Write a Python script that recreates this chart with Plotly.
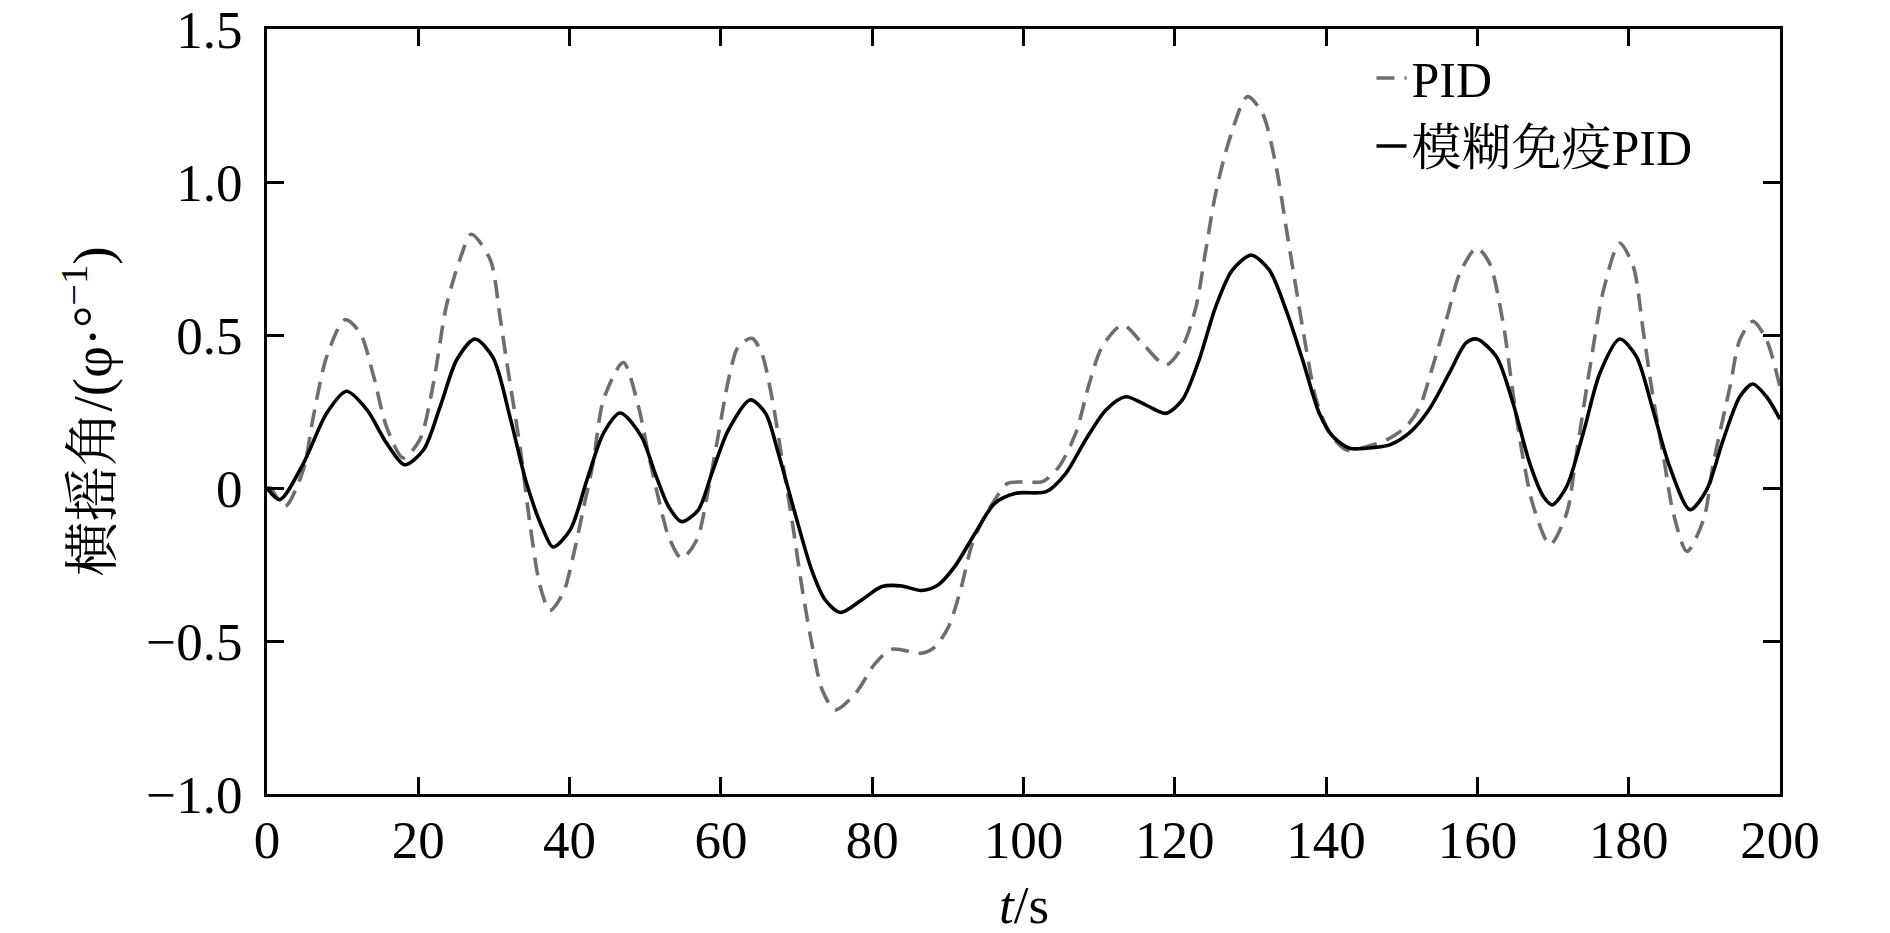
import plotly.graph_objects as go

# Time samples (s) and roll angle values
t_pid = [0, 0.4, 2.4, 4.8, 6.1, 7.9, 10.3, 12.3, 14.1, 15.8, 18.0, 20.2, 22.0, 23.7, 25.5, 27.0,
         29.5, 30.8, 31.7, 33.5, 34.8, 36.1, 37.4, 39.2, 40.5, 41.8, 43.1, 44.5, 47.1, 49.1,
         50.4, 51.8, 53.1, 54.8, 56.8, 58.4, 59.7, 61.0, 62.3, 64.1, 65.4, 66.8, 68.1, 69.4,
         70.7, 72.1, 73.4, 75.1, 77.8, 80.4, 82.6, 86.5, 88.3, 90.1, 91.8, 93.1, 94.4, 96.2,
         97.9, 100.0, 102.5, 104.7, 106.9, 108.7, 110.4, 113.1, 115.7, 118.8, 121.0, 122.8,
         124.1, 125.4, 127.2, 129.6, 131.6, 133.4, 134.7, 136.0, 137.4, 138.7, 140.5, 142.7,
         145.3, 148.0, 150.6, 152.4, 154.1, 155.9, 157.7, 159.9, 161.6, 163.4, 164.7, 166.0,
         167.4, 169.6, 171.8, 173.1, 174.9, 176.7, 178.8, 180.6, 181.9, 183.2, 184.6, 185.9,
         187.7, 189.9, 191.2, 193.4, 194.7, 196.4, 198.2, 200.0]
v_pid = [0.0, 0.0, -0.06, 0.06, 0.23, 0.43, 0.55, 0.507, 0.365, 0.2, 0.098, 0.158, 0.343, 0.594,
         0.747, 0.829, 0.747, 0.56, 0.41, 0.125, -0.125, -0.32, -0.40, -0.34, -0.22, -0.07, 0.08,
         0.29, 0.41, 0.266, 0.113, -0.039, -0.159, -0.23, -0.17, 0.004, 0.179, 0.353, 0.462,
         0.489, 0.44, 0.288, 0.092, -0.105, -0.322, -0.519, -0.66, -0.725, -0.671, -0.573,
         -0.527, -0.54, -0.519, -0.453, -0.322, -0.192, -0.115, -0.039, 0.015, 0.02, 0.021,
         0.07, 0.179, 0.342, 0.462, 0.533, 0.473, 0.402, 0.462, 0.592, 0.778, 0.963, 1.137,
         1.279, 1.224, 1.05, 0.854, 0.658, 0.451, 0.288, 0.179, 0.124, 0.135, 0.157, 0.201,
         0.267, 0.398, 0.55, 0.703, 0.784, 0.735, 0.539, 0.31, 0.103, -0.06, -0.185, -0.082,
         0.114, 0.398, 0.65, 0.80, 0.724, 0.517, 0.299, 0.103, -0.082, -0.207, -0.103, 0.082,
         0.332, 0.485, 0.545, 0.485, 0.33]

t_fip = [0, 1.7, 4.8, 7.9, 10.5, 13.2, 15.8, 18.2, 20.7, 22.9, 25.1, 27.5, 29.9, 32.1, 34.3,
         36.5, 37.8, 40.1, 42.3, 44.5, 46.7, 49.5, 51.3, 53.1, 54.8, 57.0, 58.8, 61.0, 63.9,
         65.9, 67.6, 69.8, 72.0, 73.8, 75.8, 78.6, 81.3, 83.9, 86.5, 88.7, 90.9, 93.6, 96.2,
         99.0, 103.0, 105.6, 108.2, 110.9, 113.5, 116.2, 118.8, 121.0, 123.2, 125.4, 127.6,
         130.1, 132.5, 134.7, 136.9, 139.1, 140.9, 143.1, 145.3, 148.4, 151.0, 153.6, 156.3,
         158.5, 159.9, 162.5, 164.7, 166.9, 168.7, 169.9, 171.8, 174.0, 176.2, 178.8, 181.0,
         183.2, 185.4, 188.1, 190.3, 192.5, 194.7, 196.4, 198.2, 200.0]
v_fip = [0.0, -0.038, 0.08, 0.245, 0.316, 0.256, 0.147, 0.076, 0.125, 0.267, 0.42, 0.487, 0.425,
         0.234, 0.016, -0.136, -0.193, -0.136, 0.027, 0.18, 0.245, 0.168, 0.048, -0.061, -0.110,
         -0.072, 0.048, 0.19, 0.288, 0.244, 0.113, -0.083, -0.268, -0.366, -0.407, -0.366,
         -0.322, -0.32, -0.335, -0.317, -0.257, -0.148, -0.05, -0.017, -0.012, 0.048, 0.157,
         0.255, 0.298, 0.271, 0.244, 0.288, 0.418, 0.592, 0.712, 0.761, 0.712, 0.582, 0.418,
         0.244, 0.168, 0.13, 0.13, 0.141, 0.18, 0.256, 0.376, 0.474, 0.487, 0.43, 0.278, 0.082,
         -0.027, -0.055, 0.005, 0.18, 0.376, 0.487, 0.43, 0.256, 0.071, -0.071, -0.006, 0.158,
         0.299, 0.34, 0.299, 0.225]

series_names = ["PID", "模糊免疫PID"]
x_ticks = [0, 20, 40, 60, 80, 100, 120, 140, 160, 180, 200]
y_ticks = [-1.0, -0.5, 0, 0.5, 1.0, 1.5]
y_tick_text = ["\u22121.0", "\u22120.5", "0", "0.5", "1.0", "1.5"]

FONT = "Times New Roman, Liberation Serif, Noto Serif CJK SC, Noto Sans CJK SC, serif"

fig = go.Figure()
fig.add_trace(go.Scatter(
    x=t_pid, y=v_pid, mode="lines", name=series_names[0],
    line=dict(color="#6e6e6e", width=3.6, dash="18px,10px", shape="spline", smoothing=0.8),
))
fig.add_trace(go.Scatter(
    x=t_fip, y=v_fip, mode="lines", name=series_names[1],
    line=dict(color="#000000", width=3.6, shape="spline", smoothing=0.8),
))

axis_common = dict(
    showline=True, linecolor="black", linewidth=3, mirror="ticks",
    ticks="inside", ticklen=17, tickwidth=3, tickcolor="black",
    showgrid=False, zeroline=False, automargin=False,
    ticklabeloverflow="allow",
    tickfont=dict(family=FONT, size=53, color="black"),
)

fig.update_layout(
    width=1882, height=925,
    margin=dict(l=259, r=110, t=21, b=139),
    paper_bgcolor="white", plot_bgcolor="white",
    font=dict(family=FONT, color="black"),
    xaxis=dict(
        range=[0, 200], tickvals=x_ticks, ticktext=[str(v) for v in x_ticks],
        ticklabelstandoff=-3,
        **axis_common,
    ),
    yaxis=dict(
        range=[-1.0, 1.5], tickvals=y_ticks, ticktext=y_tick_text,
        title=dict(text="横摇角/(φ·°<sup>−1</sup>)", font=dict(family=FONT, size=55), standoff=18),
        ticklabelstandoff=11,
        **axis_common,
    ),
    legend=dict(
        x=0.730, y=0.987, xanchor="left", yanchor="top",
        bgcolor="rgba(0,0,0,0)", borderwidth=0,
        font=dict(family=FONT, size=50, color="black"),
        tracegroupgap=0, itemwidth=30,
    ),
    showlegend=True,
)

# x-axis title placed as text below the tick labels
fig.add_annotation(
    text="<i>t</i>/s", xref="paper", yref="paper", x=0.5, y=-0.145,
    xanchor="center", yanchor="middle", showarrow=False,
    font=dict(family=FONT, size=53, color="black"),
)

fig.write_html("out.html")
